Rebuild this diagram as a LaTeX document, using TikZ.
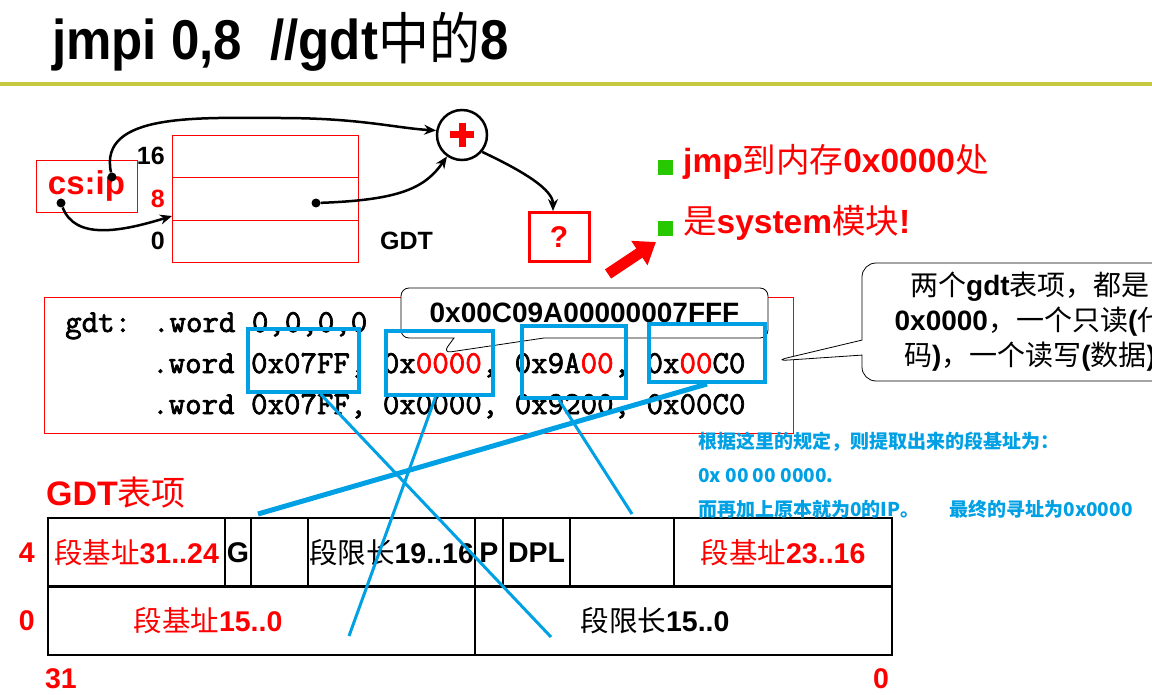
\documentclass[tikz,border=0pt]{standalone}
\usepackage{fontspec}
\setmainfont{Liberation Sans}
\newfontfamily\cjk{Noto Sans CJK SC}
\newfontfamily\codefont{Latin Modern Mono}[FakeBold=2.2]
\usetikzlibrary{positioning,arrows.meta,shapes.callouts}
\definecolor{ruleolive}{RGB}{198,200,62}
\definecolor{zblue}{RGB}{0,160,228}
\definecolor{bgreen}{RGB}{40,200,0}
\newcommand{\zhtext}[1]{{\cjk\mdseries #1}}
\tikzset{>={Stealth[length=12pt,width=10pt]}}
\tikzset{redcell/.style={draw=red, line width=0.8pt, minimum width=186pt, minimum height=42.5pt, inner sep=0pt, outer sep=0pt}}
\tikzset{num/.style={font=\fontsize{25}{25}\selectfont\bfseries, inner sep=0pt}}
\tikzset{link/.style={->, line width=2.5pt}}
\tikzset{dot/.style={circle, fill, inner sep=0pt, minimum size=9pt}}
\tikzset{hexbox/.style={draw=zblue, line width=4pt, inner sep=0pt}}
\tikzset{zline/.style={draw=zblue, line width=3pt}}
\tikzset{code/.style={font=\fontsize{32}{32}\selectfont\codefont, inner sep=0pt, anchor=base west}}
\tikzset{cell/.style={draw, line width=2.5pt, minimum height=68.5pt, inner sep=0pt, outer sep=0pt, font=\fontsize{28.5}{28.5}\selectfont\bfseries}}
\tikzset{bullet/.style={fill=bgreen, minimum size=15pt, inner sep=0pt}}
\tikzset{note/.style={text=zblue, font=\fontsize{19}{19}\selectfont\cjk\bfseries, inner sep=0pt, anchor=base west}}
\tikzset{redlabel/.style={text=red, inner sep=0pt, font=\fontsize{28.5}{28.5}\selectfont\bfseries}}
\begin{document}
\begin{tikzpicture}[x=1pt, y=-1pt]
    \useasboundingbox (0,0) rectangle (1152,695);
    % title
    \node[anchor=base west, inner sep=0pt, font=\fontsize{51}{51}\selectfont\bfseries] (title) at (52,60) {\scalebox{1}[1.1]{jmpi 0,8\ \ //gdt\zhtext{中的}8}};
    \draw[ruleolive, line width=4pt] (0,84) -- (1152,84);

    % cs:ip and GDT
    \node[draw=red, line width=0.8pt, minimum width=101pt, minimum height=52pt, inner sep=0pt, text=red, font=\fontsize{33}{33}\selectfont\bfseries] (csip) at (86.5,186) {cs:ip};
    \node[redcell, anchor=north west] (r16) at (172,135) {};
    \node[redcell, below=0pt of r16] (r8) {};
    \node[redcell, below=0pt of r8] (r0) {};
    \node[num, left=7pt of r16] {16};
    \node[num, left=7pt of r8, text=red] {8};
    \node[num, left=7pt of r0] {0};
    \node[num, right=22pt of r0] (gdtname) {GDT};
    \node[draw, circle, line width=2.5pt, minimum size=50pt, inner sep=0pt] (plus) at (462,135) {};
    \draw[red, line width=7pt] ([xshift=-12pt]plus.center) -- ([xshift=12pt]plus.center);
    \draw[red, line width=7pt] ([yshift=-12pt]plus.center) -- ([yshift=12pt]plus.center);
    \node[draw=red, line width=3pt, minimum width=60pt, minimum height=49pt, inner sep=0pt, text=red, font=\fontsize{30}{30}\selectfont\bfseries] (qbox) at (559,237) {?};
    \node[dot] (dtop) at (112,177) {};
    \node[dot] (dmid) at (316,203) {};
    \node[dot] (dbot) at (61,203) {};

    \draw[link] (dtop) .. controls (98,112) and (200,118) .. (280,118) .. controls (360,118) and (395,128) .. (plus.170);
    \draw[link] (dmid) .. controls (400,200) and (425,188) .. (plus.235);
    \draw[link] (dbot) .. controls (75,240) and (120,232) .. ([yshift=4pt]r8.south west);
    \draw[link] (plus.-40) .. controls (525,172) and (553,190) .. ([xshift=-6pt]qbox.north);

    % bullets
    \node[bullet] (b1) at (665,168) {};
    \node[bullet] (b2) at (665,229) {};
    \node[anchor=base west, inner sep=0pt, text=red, font=\fontsize{33.5}{33.5}\selectfont\bfseries] (t1) at (683,173) {jmp\zhtext{到内存}0x0000\zhtext{处}};
    \node[anchor=base west, inner sep=0pt, text=red, font=\fontsize{33.5}{33.5}\selectfont\bfseries] (t2) at (683,234) {\zhtext{是}system\zhtext{模块}!};
    \coordinate (fattail) at (608,274);
    \coordinate (fattip) at (656,242);
    \draw[red, line width=11pt, -{Triangle[length=20pt,width=28pt]}] (fattail) -- (fattip);

    % code
    \node[draw=red, line width=0.8pt, minimum width=749pt, minimum height=136pt, inner sep=0pt, anchor=north west] (codebox) at (44,297) {};
    \node[code] (l1) at (65,332) {gdt: .word 0,0,0,0};
    \node[code] (l2) at (152,373) {.word 0x07FF, 0x\textcolor{red}{0000}, 0x9A\textcolor{red}{00}, 0x\textcolor{red}{00}C0};
    \node[code] (l3) at (152,414) {.word 0x07FF, 0x0000, 0x9200, 0x00C0};

    \node[rectangle callout, draw, fill=white, rounded corners=8pt, line width=0.8pt, minimum width=367pt, minimum height=50pt, inner sep=0pt,
          callout absolute pointer={(443,353)}, callout pointer width=90pt, font=\fontsize{28}{28}\selectfont\bfseries] (hexcall) at (584.5,313) {0x00C09A00000007FFF};
    \node[rectangle callout, draw, fill=white, rounded corners=14pt, line width=0.8pt, minimum width=336pt, minimum height=118pt, inner sep=0pt,
          callout absolute pointer={(774,361)}, callout pointer width=15pt, align=center, font=\fontsize{28}{35}\selectfont\bfseries] (gdtnote) at (1030,322)
          {\zhtext{两个}gdt\zhtext{表项，都是}\\0x0000\zhtext{，一个只读}(\zhtext{代}\\\zhtext{码})\zhtext{，一个读写}(\zhtext{数据})};

    \node[hexbox, minimum width=111pt, minimum height=63pt, anchor=north west] (w1) at (246,327) {};
    \node[hexbox, minimum width=107pt, minimum height=64pt, anchor=north west] (w2) at (384,329) {};
    \node[hexbox, minimum width=104pt, minimum height=72pt, anchor=north west] (w3) at (520,324) {};
    \node[hexbox, minimum width=116pt, minimum height=58pt, anchor=north west] (w4) at (647,322) {};

    % explanation
    \node[note] (n1) at (698,448) {根据这里的规定，则提取出来的段基址为：};
    \node[note] (n2) at (698,482) {0x 00 00 0000.};

    % descriptor
    \node[anchor=base west, inner sep=0pt, text=red, font=\fontsize{34}{34}\selectfont\bfseries] (entry) at (46,505) {GDT\zhtext{表项}};
    \node[cell, minimum width=177pt, anchor=north west, text=red] (base31) at (48,518) {\zhtext{段基址}31..24};
    \node[cell, minimum width=26pt, right=0pt of base31] (gbit) {G};
    \node[cell, minimum width=57pt, right=0pt of gbit] (blank1) {};
    \node[cell, minimum width=167pt, right=0pt of blank1] (lim19) {\zhtext{段限长}19..16};
    \node[cell, minimum width=28pt, right=0pt of lim19] (pbit) {P};
    \node[cell, minimum width=67pt, right=0pt of pbit] (dpl) {DPL};
    \node[cell, minimum width=104pt, right=0pt of dpl] (blank2) {};
    \node[cell, minimum width=218pt, right=0pt of blank2, text=red] (base23) {\zhtext{段基址}23..16};
    \node[cell, minimum width=427pt, below=0pt of base31.south west, anchor=north west] (base15) {};
    \node[cell, minimum width=417pt, right=0pt of base15] (lim15) {};
    \node[redlabel] (base15txt) at (208,621) {\zhtext{段基址}15..0};
    \node[redlabel, text=black] (lim15txt) at (655,621) {\zhtext{段限长}15..0};
    \node[redlabel, left=13pt of base31] (row4) {4};
    \node[redlabel, left=13pt of base15] (row0) {0};
    \node[redlabel] (bit31) at (61,679) {31};
    \node[redlabel] (bit0) at (881,679) {0};
    \node[note] (n3) at (698,516) {而再加上原本就为0的IP。\hspace{30pt}最终的寻址为0x0000};

    % links from the words to the fields
    \coordinate (ea) at (551,637);
    \coordinate (eb) at (349,636);
    \coordinate (ec) at (258,514);
    \coordinate (ed) at (632,514);
    \draw[zline] ([xshift=17pt]w1.south) -- (ea);
    \draw[zline] ([xshift=-4pt]w2.south) -- (eb);
    \draw[zline, line width=5pt] (w4.south) -- (ec);
    \draw[zline] ([xshift=-15pt]w3.south) -- (ed);
\end{tikzpicture}
\end{document}
